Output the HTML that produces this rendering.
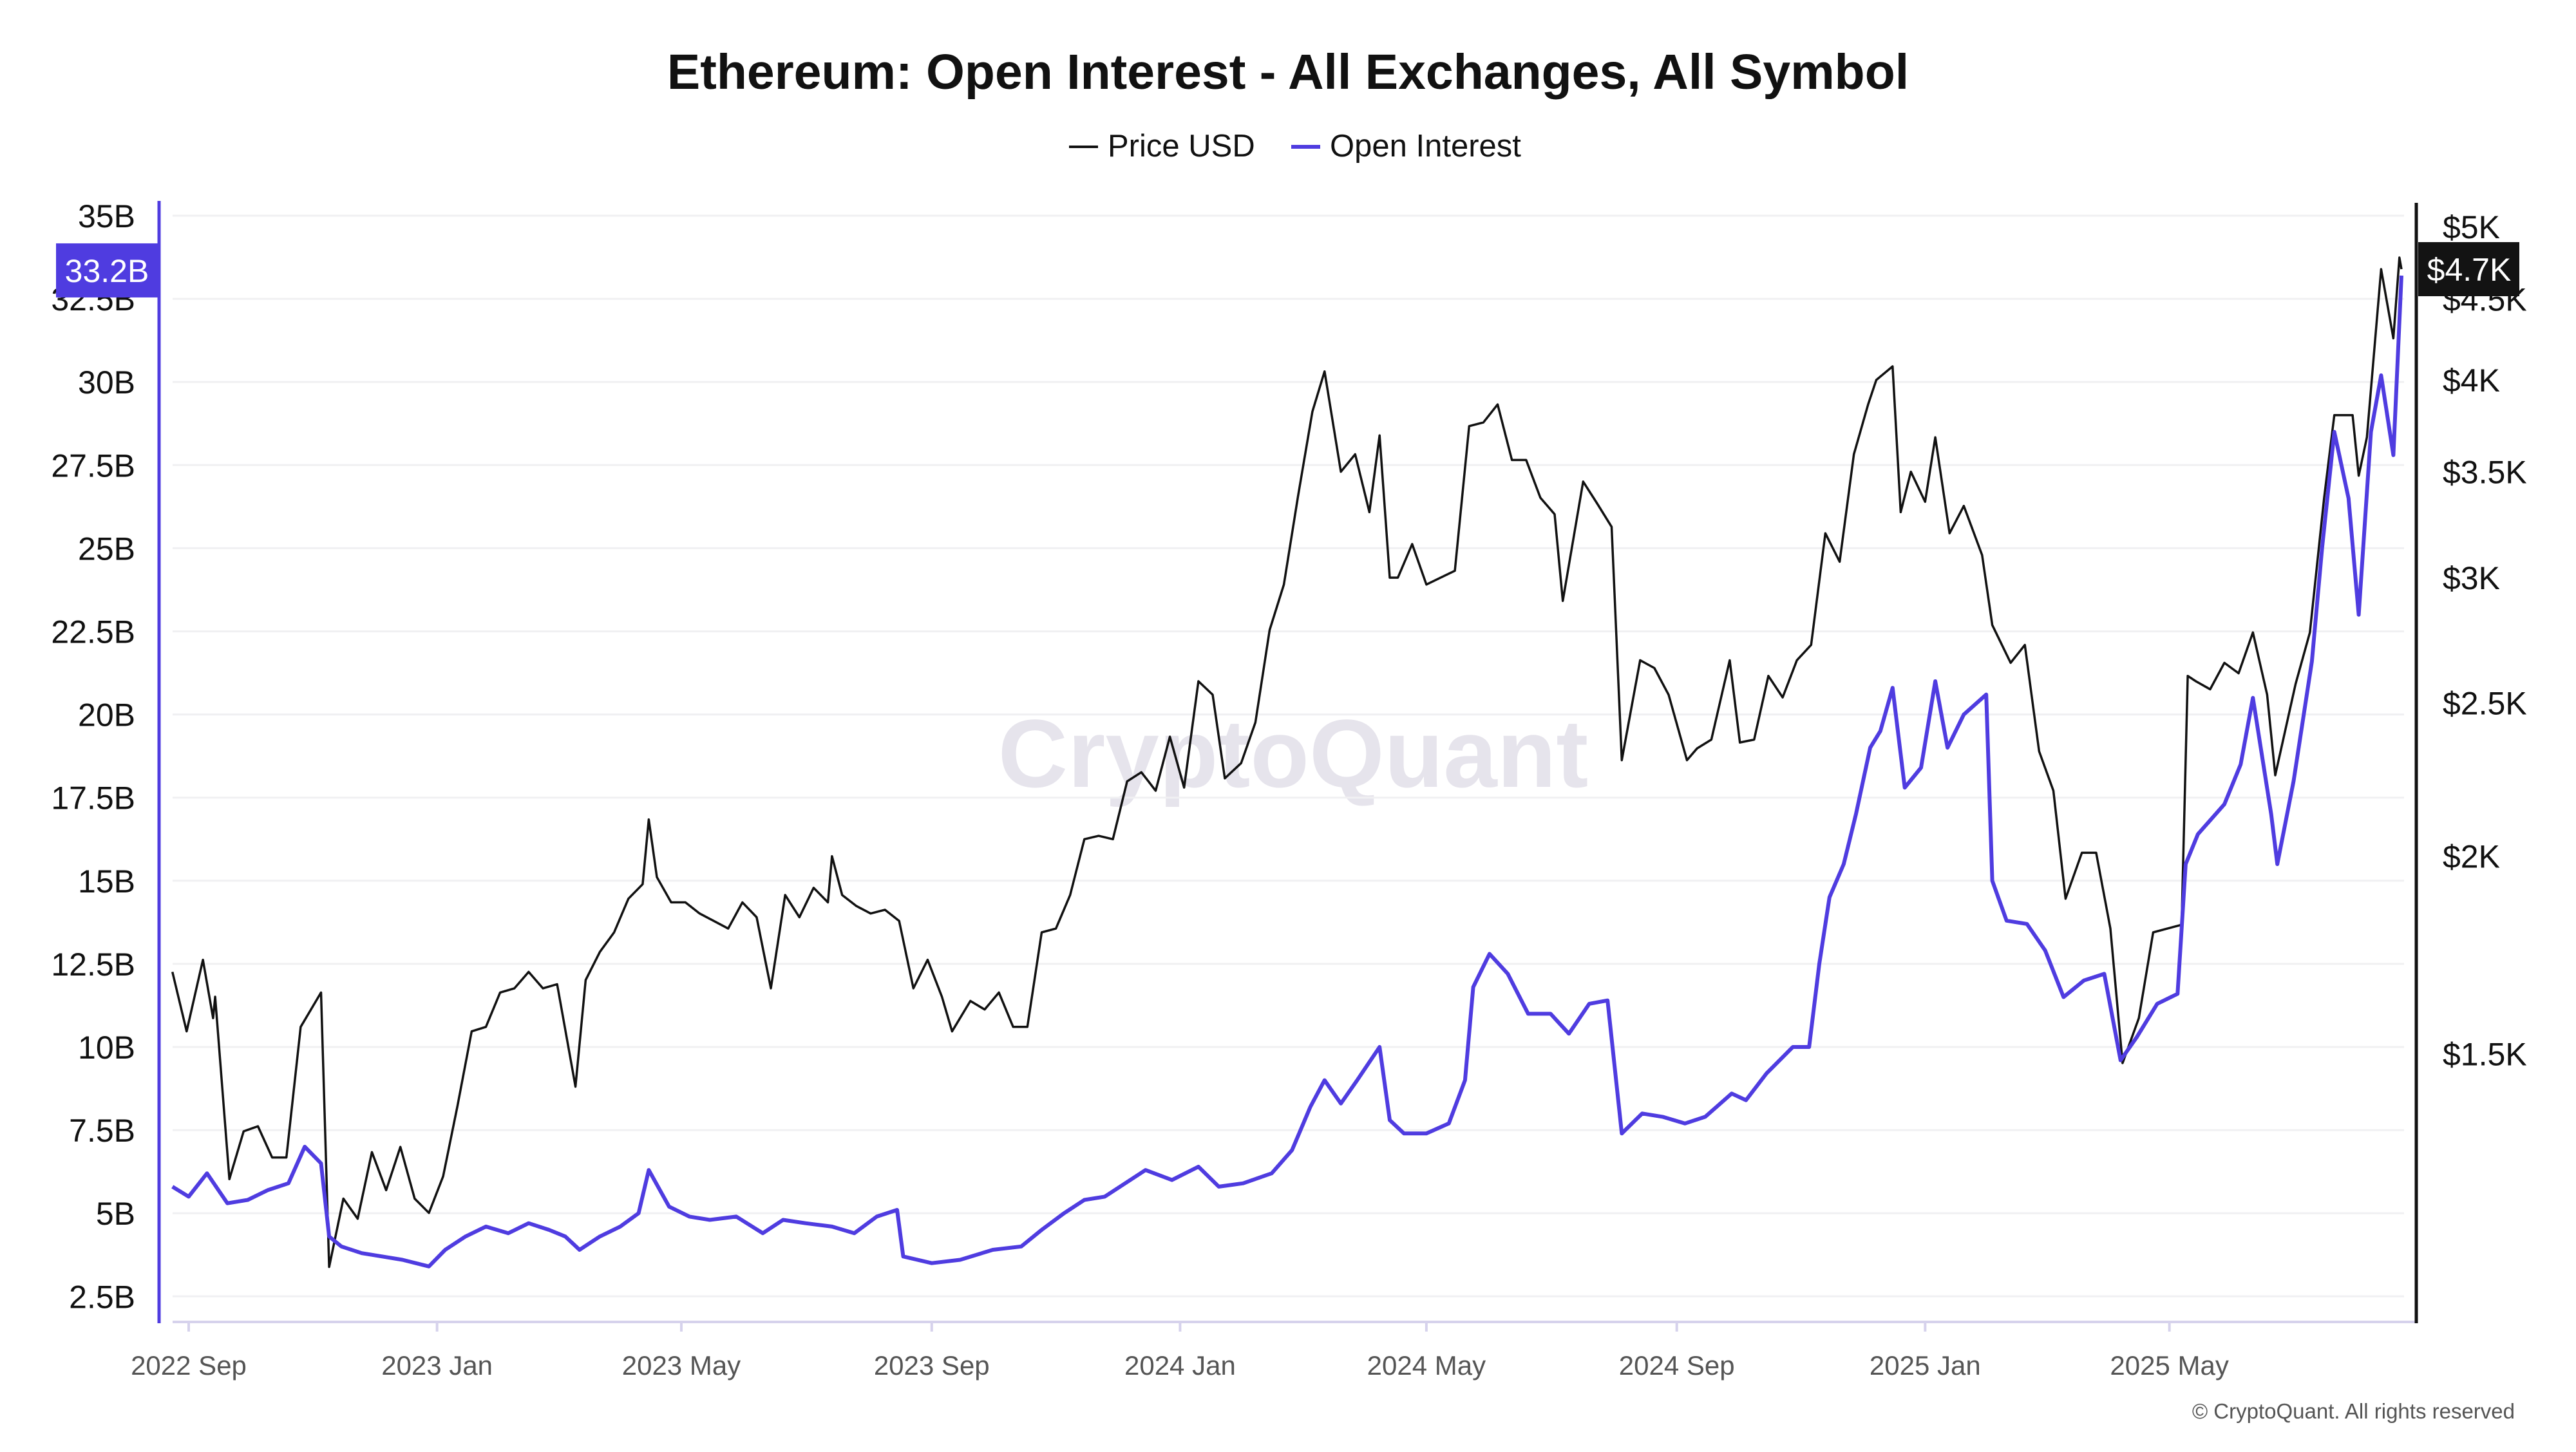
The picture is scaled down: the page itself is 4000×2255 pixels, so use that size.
<!DOCTYPE html>
<html><head><meta charset="utf-8">
<style>
html,body{margin:0;padding:0;background:#fff;}
body{width:4000px;height:2250px;overflow:hidden;font-family:"Liberation Sans",sans-serif;}
</style></head>
<body>
<svg id="chart" width="4000" height="2250" viewBox="0 0 4000 2250" xmlns="http://www.w3.org/2000/svg" font-family="Liberation Sans, sans-serif">
  <text x="2000" y="138" text-anchor="middle" font-size="77" font-weight="bold" fill="#111">Ethereum: Open Interest - All Exchanges, All Symbol</text>
  <g>
    <g>
      <line x1="1660" y1="228" x2="1705" y2="228" stroke="#111" stroke-width="4"/>
      <text x="1720" y="243" font-size="49" fill="#111">Price USD</text>
    </g>
    <g>
      <line x1="2005" y1="228" x2="2050" y2="228" stroke="#4f3ce0" stroke-width="6"/>
      <text x="2065" y="243" font-size="49" fill="#111">Open Interest</text>
    </g>
  </g>
  <text x="2008" y="1222" text-anchor="middle" font-size="150" font-weight="bold" fill="#e6e4ec">CryptoQuant</text>
  <g id="grid"></g>
  <g id="axes"></g>
  <g id="series"></g>
  <g id="labels"></g>
  <text x="3905" y="2203" text-anchor="end" font-size="33" fill="#555">© CryptoQuant. All rights reserved</text>
</svg>
<script>
const oiTicks = [2.5,5,7.5,10,12.5,15,17.5,20,22.5,25,27.5,30,32.5,35];
const priceTicks = [1500,2000,2500,3000,3500,4000,4500,5000];
const priceTickLabels = ["$1.5K","$2K","$2.5K","$3K","$3.5K","$4K","$4.5K","$5K"];
const xTickDates = ["2022-09-01","2023-01-01","2023-05-01","2023-09-01","2024-01-01","2024-05-01","2024-09-01","2025-01-01","2025-05-01"];
const xTickLabels = ["2022 Sep","2023 Jan","2023 May","2023 Sep","2024 Jan","2024 May","2024 Sep","2025 Jan","2025 May"];

const priceDates = ["2022-08-24","2022-08-31","2022-09-08","2022-09-13","2022-09-14","2022-09-21","2022-09-28","2022-10-05","2022-10-12","2022-10-19","2022-10-26","2022-11-05","2022-11-09","2022-11-16","2022-11-23","2022-11-30","2022-12-07","2022-12-14","2022-12-21","2022-12-28",
"2023-01-04","2023-01-11","2023-01-18","2023-01-25","2023-02-01","2023-02-08","2023-02-15","2023-02-22","2023-03-01","2023-03-10","2023-03-15","2023-03-22","2023-03-29","2023-04-05","2023-04-12","2023-04-15","2023-04-19","2023-04-26","2023-05-03","2023-05-10","2023-05-17","2023-05-24","2023-05-31","2023-06-07","2023-06-14","2023-06-21","2023-06-28","2023-07-05","2023-07-12","2023-07-14","2023-07-19","2023-07-26","2023-08-02","2023-08-09","2023-08-16","2023-08-23","2023-08-30","2023-09-06","2023-09-11","2023-09-20","2023-09-27","2023-10-04","2023-10-11","2023-10-18","2023-10-25","2023-11-01","2023-11-08","2023-11-15","2023-11-22","2023-11-29","2023-12-06","2023-12-13","2023-12-20","2023-12-27",
"2024-01-03","2024-01-10","2024-01-17","2024-01-23","2024-01-31","2024-02-07","2024-02-14","2024-02-21","2024-02-28","2024-03-06","2024-03-12","2024-03-20","2024-03-27","2024-04-03","2024-04-08","2024-04-13","2024-04-17","2024-04-24","2024-05-01","2024-05-08","2024-05-15","2024-05-22","2024-05-29","2024-06-05","2024-06-12","2024-06-19","2024-06-26","2024-07-03","2024-07-07","2024-07-17","2024-07-24","2024-07-31","2024-08-05","2024-08-14","2024-08-21","2024-08-28","2024-09-06","2024-09-11","2024-09-18","2024-09-27","2024-10-02","2024-10-09","2024-10-16","2024-10-23","2024-10-30","2024-11-06","2024-11-13","2024-11-20","2024-11-27","2024-12-04","2024-12-08","2024-12-16","2024-12-20","2024-12-25",
"2025-01-01","2025-01-06","2025-01-13","2025-01-20","2025-01-29","2025-02-03","2025-02-12","2025-02-19","2025-02-26","2025-03-05","2025-03-11","2025-03-19","2025-03-26","2025-04-02","2025-04-08","2025-04-16","2025-04-23","2025-04-30","2025-05-07","2025-05-10","2025-05-14","2025-05-21","2025-05-28","2025-06-04","2025-06-11","2025-06-18","2025-06-22","2025-07-02","2025-07-09","2025-07-16","2025-07-21","2025-07-30","2025-08-02","2025-08-06","2025-08-13","2025-08-19","2025-08-22","2025-08-23"];
const priceValues = [1690,1550,1720,1580,1630,1250,1340,1350,1290,1290,1560,1640,1100,1215,1180,1300,1230,1310,1215,1190,
1255,1390,1550,1560,1640,1650,1690,1650,1660,1430,1670,1740,1790,1880,1920,2110,1940,1870,1870,1840,1820,1800,1870,1830,1650,1890,1830,1910,1870,2000,1890,1860,1840,1850,1820,1650,1720,1630,1550,1620,1600,1640,1560,1560,1790,1800,1890,2050,2060,2050,2230,2260,2200,2380,
2210,2580,2530,2240,2290,2430,2780,2970,3380,3820,4050,3500,3590,3300,3690,3000,3000,3150,2970,3000,3030,3740,3760,3860,3560,3560,3370,3290,2900,3450,3340,3230,2300,2660,2630,2530,2300,2340,2370,2660,2360,2370,2600,2520,2660,2720,3200,3070,3590,3860,4000,4080,3300,3500,
3350,3680,3200,3330,3100,2800,2650,2720,2330,2200,1880,2010,2010,1800,1480,1580,1790,1800,1810,2600,2580,2550,2650,2610,2770,2530,2250,2570,2770,3370,3800,3800,3480,3680,4700,4250,4780,4700];

const oiDates = ["2022-08-24","2022-09-01","2022-09-10","2022-09-20","2022-09-30","2022-10-10","2022-10-20","2022-10-28","2022-11-05","2022-11-09","2022-11-15","2022-11-25","2022-12-05","2022-12-15","2022-12-28",
"2023-01-05","2023-01-15","2023-01-25","2023-02-05","2023-02-15","2023-02-25","2023-03-05","2023-03-12","2023-03-22","2023-04-01","2023-04-10","2023-04-15","2023-04-25","2023-05-05","2023-05-15","2023-05-28","2023-06-10","2023-06-20","2023-07-01","2023-07-14","2023-07-25","2023-08-05","2023-08-15","2023-08-18","2023-09-01","2023-09-15","2023-10-01","2023-10-15","2023-10-25","2023-11-05","2023-11-15","2023-11-25","2023-12-05","2023-12-15","2023-12-28",
"2024-01-10","2024-01-20","2024-02-01","2024-02-15","2024-02-25","2024-03-05","2024-03-12","2024-03-20","2024-03-28","2024-04-08","2024-04-13","2024-04-20","2024-05-01","2024-05-12","2024-05-20","2024-05-24","2024-06-01","2024-06-10","2024-06-20","2024-07-01","2024-07-10","2024-07-20","2024-07-29","2024-08-05","2024-08-15","2024-08-25","2024-09-05","2024-09-15","2024-09-28","2024-10-05","2024-10-15","2024-10-28","2024-11-05","2024-11-10","2024-11-15","2024-11-22","2024-11-28","2024-12-05","2024-12-10","2024-12-16","2024-12-22","2024-12-30",
"2025-01-06","2025-01-12","2025-01-20","2025-01-31","2025-02-03","2025-02-10","2025-02-20","2025-03-01","2025-03-10","2025-03-20","2025-03-30","2025-04-07","2025-04-15","2025-04-25","2025-05-05","2025-05-09","2025-05-15","2025-05-28","2025-06-05","2025-06-11","2025-06-20","2025-06-23","2025-07-01","2025-07-10","2025-07-15","2025-07-21","2025-07-28","2025-08-02","2025-08-08","2025-08-13","2025-08-19","2025-08-23"];
const oiValues = [5.8,5.5,6.2,5.3,5.4,5.7,5.9,7.0,6.5,4.3,4.0,3.8,3.7,3.6,3.4,
3.9,4.3,4.6,4.4,4.7,4.5,4.3,3.9,4.3,4.6,5.0,6.3,5.2,4.9,4.8,4.9,4.4,4.8,4.7,4.6,4.4,4.9,5.1,3.7,3.5,3.6,3.9,4.0,4.5,5.0,5.4,5.5,5.9,6.3,6.0,
6.4,5.8,5.9,6.2,6.9,8.2,9.0,8.3,9.0,10.0,7.8,7.4,7.4,7.7,9.0,11.8,12.8,12.2,11.0,11.0,10.4,11.3,11.4,7.4,8.0,7.9,7.7,7.9,8.6,8.4,9.2,10.0,10.0,12.5,14.5,15.5,17.0,19.0,19.5,20.8,17.8,18.4,
21.0,19.0,20.0,20.6,15.0,13.8,13.7,12.9,11.5,12.0,12.2,9.6,10.3,11.3,11.6,15.5,16.4,17.3,18.5,20.5,17.0,15.5,18.0,21.6,25.0,28.5,26.5,23.0,28.5,30.2,27.8,33.2];

const NS="http://www.w3.org/2000/svg";
const X0=293, PXD=3.161, T0=Date.UTC(2022,8,1);
function xOf(d){const p=d.split('-');return X0+PXD*(Date.UTC(+p[0],+p[1]-1,+p[2])-T0)/86400000;}
function yOI(v){return 335+(35-v)*51.64;}
function yPrice(p){return 352+1067*Math.log(5000/p);}
function mk(tag,attrs,parent){const e=document.createElementNS(NS,tag);for(const k in attrs)e.setAttribute(k,attrs[k]);parent.appendChild(e);return e;}
const grid=document.getElementById('grid'),axes=document.getElementById('axes'),series=document.getElementById('series'),labels=document.getElementById('labels');

oiTicks.forEach(v=>{
  const y=yOI(v);
  const g=mk('line',{x1:268,x2:3733,y1:y,y2:y,stroke:'#f0f0f2','stroke-width':3},grid);
  
  
  const t=mk('text',{x:210,y:y+18,'text-anchor':'end','font-size':50,fill:'#111'},axes);
  t.textContent=v+'B';
  
  
});
priceTicks.forEach((p,i)=>{
  const y=yPrice(p);
  const t=mk('text',{x:3793,y:y+18,'font-size':50,fill:'#111'},axes);
  t.textContent=priceTickLabels[i];
  
  
});
const xl=mk('line',{x1:268,x2:3750,y1:2053,y2:2053,stroke:'#d6d2ec','stroke-width':4},axes);


xTickDates.forEach((d,i)=>{
  const x=xOf(d);
  const tk=mk('line',{x1:x,x2:x,y1:2053,y2:2068,stroke:'#d6d2ec','stroke-width':4},axes);
  
  
  const t=mk('text',{x:x,y:2135,'text-anchor':'middle','font-size':42,fill:'#555'},axes);
  t.textContent=xTickLabels[i];
  
  
});
const la=mk('line',{x1:247,x2:247,y1:312,y2:2055,stroke:'#4f3ce0','stroke-width':5},axes);


const ra=mk('line',{x1:3752,x2:3752,y1:315,y2:2055,stroke:'#111','stroke-width':5},axes);



const pp=priceDates.map((d,i)=>xOf(d).toFixed(1)+','+yPrice(priceValues[i]).toFixed(1)).join(' ');
const pl=mk('polyline',{points:pp,fill:'none',stroke:'#111','stroke-width':3.5,'stroke-linejoin':'round'},series);


const op=oiDates.map((d,i)=>xOf(d).toFixed(1)+','+yOI(oiValues[i]).toFixed(1)).join(' ');
const ol=mk('polyline',{points:op,fill:'none',stroke:'#4f3ce0','stroke-width':6,'stroke-linejoin':'round'},series);



const lastOI=oiValues[oiValues.length-1], lastP=priceValues[priceValues.length-1];
const yo=yOI(lastOI)-8;
const ob=mk('rect',{x:87,y:yo-42,width:158,height:84,fill:'#4f3ce0'},labels);


const ot=mk('text',{x:166,y:yo+18,'text-anchor':'middle','font-size':50,fill:'#fff'},labels);
ot.textContent=lastOI.toFixed(1)+'B';


const yp=yPrice(lastP);
const pb=mk('rect',{x:3755,y:yp-42,width:157,height:84,fill:'#131313'},labels);


const pt=mk('text',{x:3834,y:yp+18,'text-anchor':'middle','font-size':50,fill:'#fff'},labels);
pt.textContent='$'+(lastP/1000).toFixed(1)+'K';


</script>
</body></html>
